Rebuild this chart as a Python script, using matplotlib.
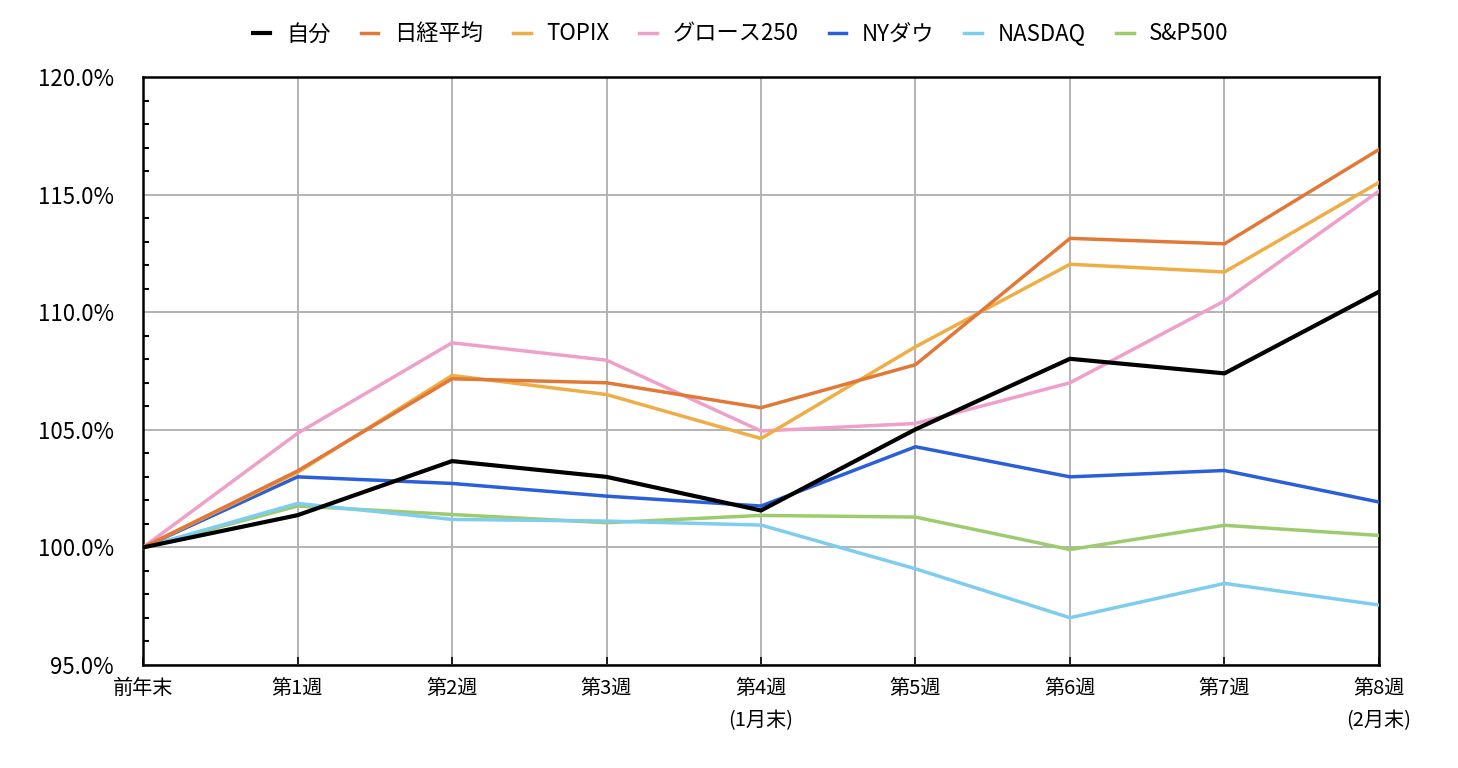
import matplotlib
matplotlib.use("Agg")
import matplotlib.pyplot as plt
from matplotlib.ticker import MultipleLocator, FuncFormatter

plt.rcParams['font.family'] = ['Noto Sans CJK JP', 'DejaVu Sans']

# ── データ（前年末=100%）────────────────────────────────
weeks = ['前年末', '第1週', '第2週', '第3週', '第4週\n(1月末)',
         '第5週', '第6週', '第7週', '第8週\n(2月末)']

jibun   = [100.0, 101.37, 103.67, 103.00, 101.57, 105.02, 108.02, 107.40, 110.87]
nikkei  = [100.0, 103.25, 107.17, 107.00, 105.94, 107.77, 113.14, 112.91, 116.92]
topix   = [100.0, 103.19, 107.31, 106.50, 104.63, 108.53, 112.04, 111.71, 115.52]
growth  = [100.0, 104.85, 108.70, 107.96, 104.95, 105.27, 107.00, 110.48, 115.15]
nydow   = [100.0, 103.00, 102.72, 102.18, 101.76, 104.28, 103.00, 103.27, 101.93]
nasdaq  = [100.0, 101.87, 101.19, 101.12, 100.95, 99.09, 97.01, 98.47, 97.55]
sp500   = [100.0, 101.76, 101.40, 101.05, 101.36, 101.29, 99.91, 100.94, 100.51]

series = [
    ('自分',       jibun,  '#000000', 3.0),
    ('日経平均',   nikkei, '#E27838', 2.5),
    ('TOPIX',      topix,  '#EEAE45', 2.5),
    ('グロース250', growth, '#EEA0CB', 2.5),
    ('NYダウ',     nydow,  '#2A5FD9', 2.5),
    ('NASDAQ',     nasdaq, '#7FCDEE', 2.5),
    ('S&P500',     sp500,  '#9DCB6E', 2.5),
]

# ── グラフ ─────────────────────────────────────────────
fig = plt.figure(figsize=(14.58, 7.68), dpi=100)
ax = fig.add_axes([0.0981, 0.1341, 0.8477, 0.7656])

x = list(range(len(weeks)))
for i, (name, vals, col, lw) in enumerate(series):
    ax.plot(x, vals, color=col, linewidth=lw, label=name, zorder=10 - i)

ax.set_xlim(0, len(weeks) - 1)
ax.set_ylim(95, 120)
ax.set_xticks(x)
ax.set_xticklabels(weeks, fontsize=14.5, linespacing=1.75)
ax.yaxis.set_major_locator(MultipleLocator(5))
ax.yaxis.set_minor_locator(MultipleLocator(1))
ax.yaxis.set_major_formatter(FuncFormatter(lambda v, p: f'{v:.1f}%'))
ax.tick_params(axis='y', which='major', labelsize=16, direction='in',
               length=0, pad=21)
ax.tick_params(axis='y', which='minor', direction='in', length=4, width=1.5)
ax.tick_params(axis='x', which='major', direction='in', length=6,
               width=1.2, pad=9)

ax.grid(True, which='major', color='#b3b3b3', linewidth=1.4)
for s in ax.spines.values():
    s.set_color('black')
    s.set_linewidth(1.8)

fig.legend(loc='upper center', bbox_to_anchor=(0.508, 0.997), ncol=7,
           frameon=False, fontsize=16, handlelength=0.8, handletextpad=0.7,
           columnspacing=1.35)

fig.savefig('out.png', dpi=100)
